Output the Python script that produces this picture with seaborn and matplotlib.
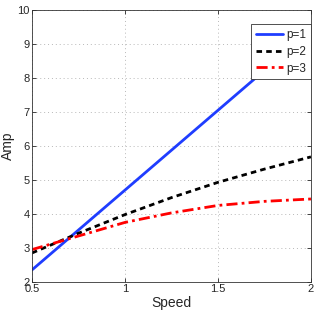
import numpy as np
import pandas as pd
import matplotlib
matplotlib.use("Agg")
import matplotlib.pyplot as plt
import seaborn as sns

speed = [0.5, 0.75, 1.0, 1.25, 1.5, 1.75, 2.0]
amp_p1 = [2.35, 3.525, 4.7, 5.875, 7.05, 8.225, 9.4]
amp_p2 = [2.85, 3.43, 3.98, 4.48, 4.93, 5.32, 5.68]
amp_p3 = [2.95, 3.35, 3.75, 4.03, 4.25, 4.37, 4.44]
labels = ["p=1", "p=2", "p=3"]
xticks = [0.5, 1, 1.5, 2]
xticklabels = ["0.5", "1", "1.5", "2"]
yticks = [2, 3, 4, 5, 6, 7, 8, 9, 10]

df = pd.DataFrame({
    "Speed": speed * 3,
    "Amp": amp_p1 + amp_p2 + amp_p3,
    "p": [labels[0]] * len(speed) + [labels[1]] * len(speed) + [labels[2]] * len(speed),
})

sns.set_style("ticks")
plt.rcParams["font.family"] = ["Liberation Sans", "DejaVu Sans"]

fig = plt.figure(figsize=(3.16, 3.16), dpi=100)
ax = fig.add_axes([0.101, 0.108, 0.883, 0.860])

palette = {"p=1": "#1f3dff", "p=2": "#000000", "p=3": "#ff0000"}
dashes = {"p=1": "", "p=2": (2, 1.5), "p=3": (4, 1.5, 1, 1.5)}
sns.lineplot(data=df, x="Speed", y="Amp", hue="p", style="p", palette=palette,
             dashes=dashes, linewidth=2, ax=ax, legend=True)

ax.set_xlim(0.5, 2)
ax.set_ylim(2, 10)
ax.set_xticks(xticks)
ax.set_xticklabels(xticklabels)
ax.set_yticks(yticks)
ax.grid(True, linestyle=(0, (1, 3)), color="#b8b8b8", linewidth=0.7)
ax.tick_params(direction="in", top=True, right=True, length=3, labelsize=8, pad=1.5, width=0.6)
for s in ax.spines.values():
    s.set_linewidth(0.6)
    s.set_color("#333333")
ax.set_xlabel("Speed", fontsize=10)
ax.set_ylabel("Amp", fontsize=10)
ax.xaxis.set_label_coords(0.5, -0.052)
ax.yaxis.set_label_coords(-0.06, 0.5)

leg = ax.legend(loc="upper right", bbox_to_anchor=(1.0, 0.949), borderaxespad=0,
                fontsize=8.5, frameon=True, fancybox=False, framealpha=1,
                edgecolor="#333333", handlelength=2.3, handletextpad=0.3,
                labelspacing=0.42, borderpad=0.4)
leg.get_frame().set_linewidth(0.6)
for line in leg.get_lines():
    line.set_linewidth(2)

fig.savefig("out.png", dpi=100)
